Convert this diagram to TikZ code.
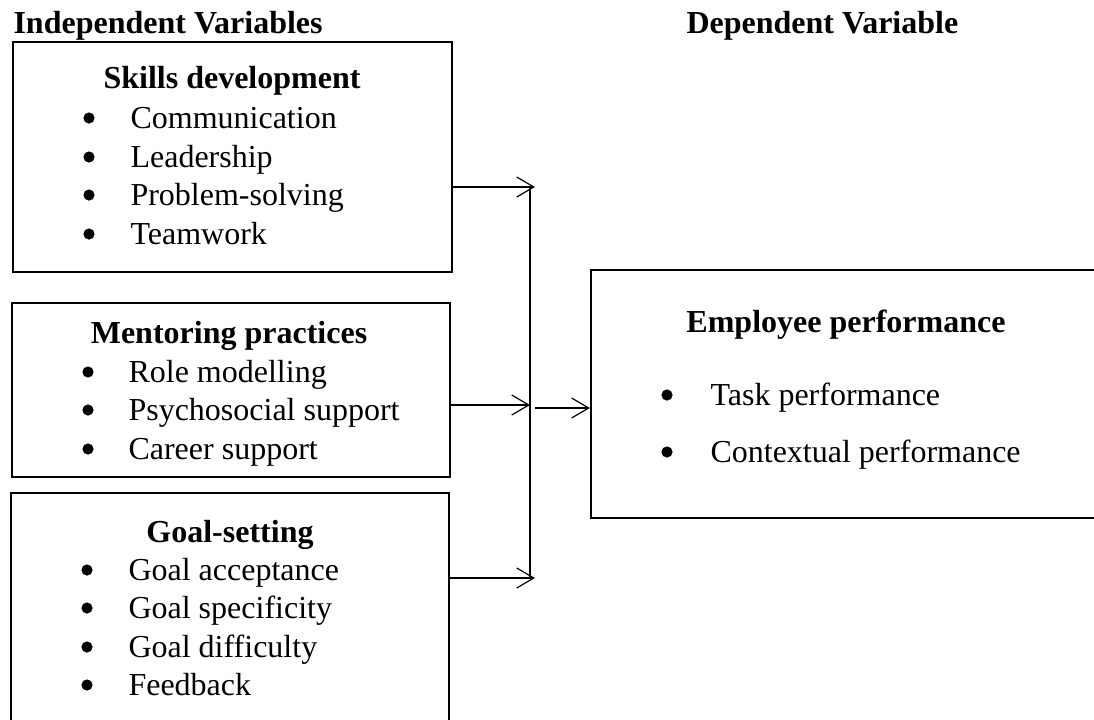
\documentclass[tikz,border=0pt]{standalone}
\usepackage{fontspec}
\setmainfont{Liberation Serif}
\usetikzlibrary{arrows.meta,positioning}
\tikzset{>={Straight Barb[length=6.4pt,width=7.5pt]}}
\tikzset{box/.style={draw, line width=0.8pt, inner sep=0pt}}
\tikzset{head/.style={font=\fontsize{12}{14}\selectfont\bfseries, inner sep=0pt, anchor=base}}
\tikzset{item/.style={font=\fontsize{12}{14}\selectfont, inner sep=0pt, anchor=base west}}
\tikzset{dot/.style={circle, fill, inner sep=0pt, minimum size=4.2pt}}
\tikzset{link/.style={->, line width=0.45pt}}

\begin{document}
\begin{tikzpicture}[x=0.375pt, y=-0.375pt]
    \useasboundingbox (0,0) rectangle (1094,719);

    \node(indep)[head, anchor=base west] at (13,33) {Independent Variables};
    \node(dep)[head, anchor=base west] at (686,33) {Dependent Variable};

    % the three boxes on the left and the one on the right
    \node(skills)[box, minimum width=164.6pt, minimum height=86.3pt] at (232.5,157) {};
    \node(mentor)[box, minimum width=164.3pt, minimum height=65.3pt] at (231,390) {};
    \node(goal)[box, minimum width=164.3pt, minimum height=92.6pt] at (230,616.5) {};
    \node(perf)[box, minimum width=198.4pt, minimum height=93pt] at (855.5,394) {};

    \node(skillsT)[head] at (232,88) {Skills development};
    \node(s1d)[dot] at (89,118) {}; \node(s1)[item] at (130,128) {Communication};
    \node(s2d)[dot] at (89,157) {}; \node(s2)[item] at (130,167) {Leadership};
    \node(s3d)[dot] at (89,195) {}; \node(s3)[item] at (130,205) {Problem-solving};
    \node(s4d)[dot] at (89,234) {}; \node(s4)[item] at (130,244) {Teamwork};

    \node(mentorT)[head] at (229,343) {Mentoring practices};
    \node(m1d)[dot] at (88,372) {}; \node(m1)[item] at (128,382) {Role modelling};
    \node(m2d)[dot] at (88,410) {}; \node(m2)[item] at (128,420) {Psychosocial support};
    \node(m3d)[dot] at (88,449) {}; \node(m3)[item] at (128,459) {Career support};

    \node(goalT)[head] at (230,542) {Goal-setting};
    \node(g1d)[dot] at (87,570) {}; \node(g1)[item] at (128,580) {Goal acceptance};
    \node(g2d)[dot] at (87,608) {}; \node(g2)[item] at (128,618) {Goal specificity};
    \node(g3d)[dot] at (87,647) {}; \node(g3)[item] at (128,657) {Goal difficulty};
    \node(g4d)[dot] at (87,685) {}; \node(g4)[item] at (128,695) {Feedback};

    \node(perfT)[head] at (846,332) {Employee performance};
    \node(p1d)[dot] at (667,395) {}; \node(p1)[item] at (710,405) {Task performance};
    \node(p2d)[dot] at (667,452) {}; \node(p2)[item] at (710,462) {Contextual performance};

    % trunk joining the three inputs
    \coordinate(t1) at (530,187);
    \coordinate(t2) at (530,405);
    \coordinate(t3) at (530,578);
    \coordinate(e1) at (535,187);
    \coordinate(e3) at (535,578);
    \coordinate(out) at (535,408);

    \draw [line width=0.45pt] (t1) -- (t3);
    \draw [link] (skills.east |- t1) -- (e1);
    \draw [link] (mentor.east |- t2) -- (t2);
    \draw [link] (goal.east |- t3) -- (e3);
    \draw [link] (out) -- (perf.west |- out);

\end{tikzpicture}
\end{document}
